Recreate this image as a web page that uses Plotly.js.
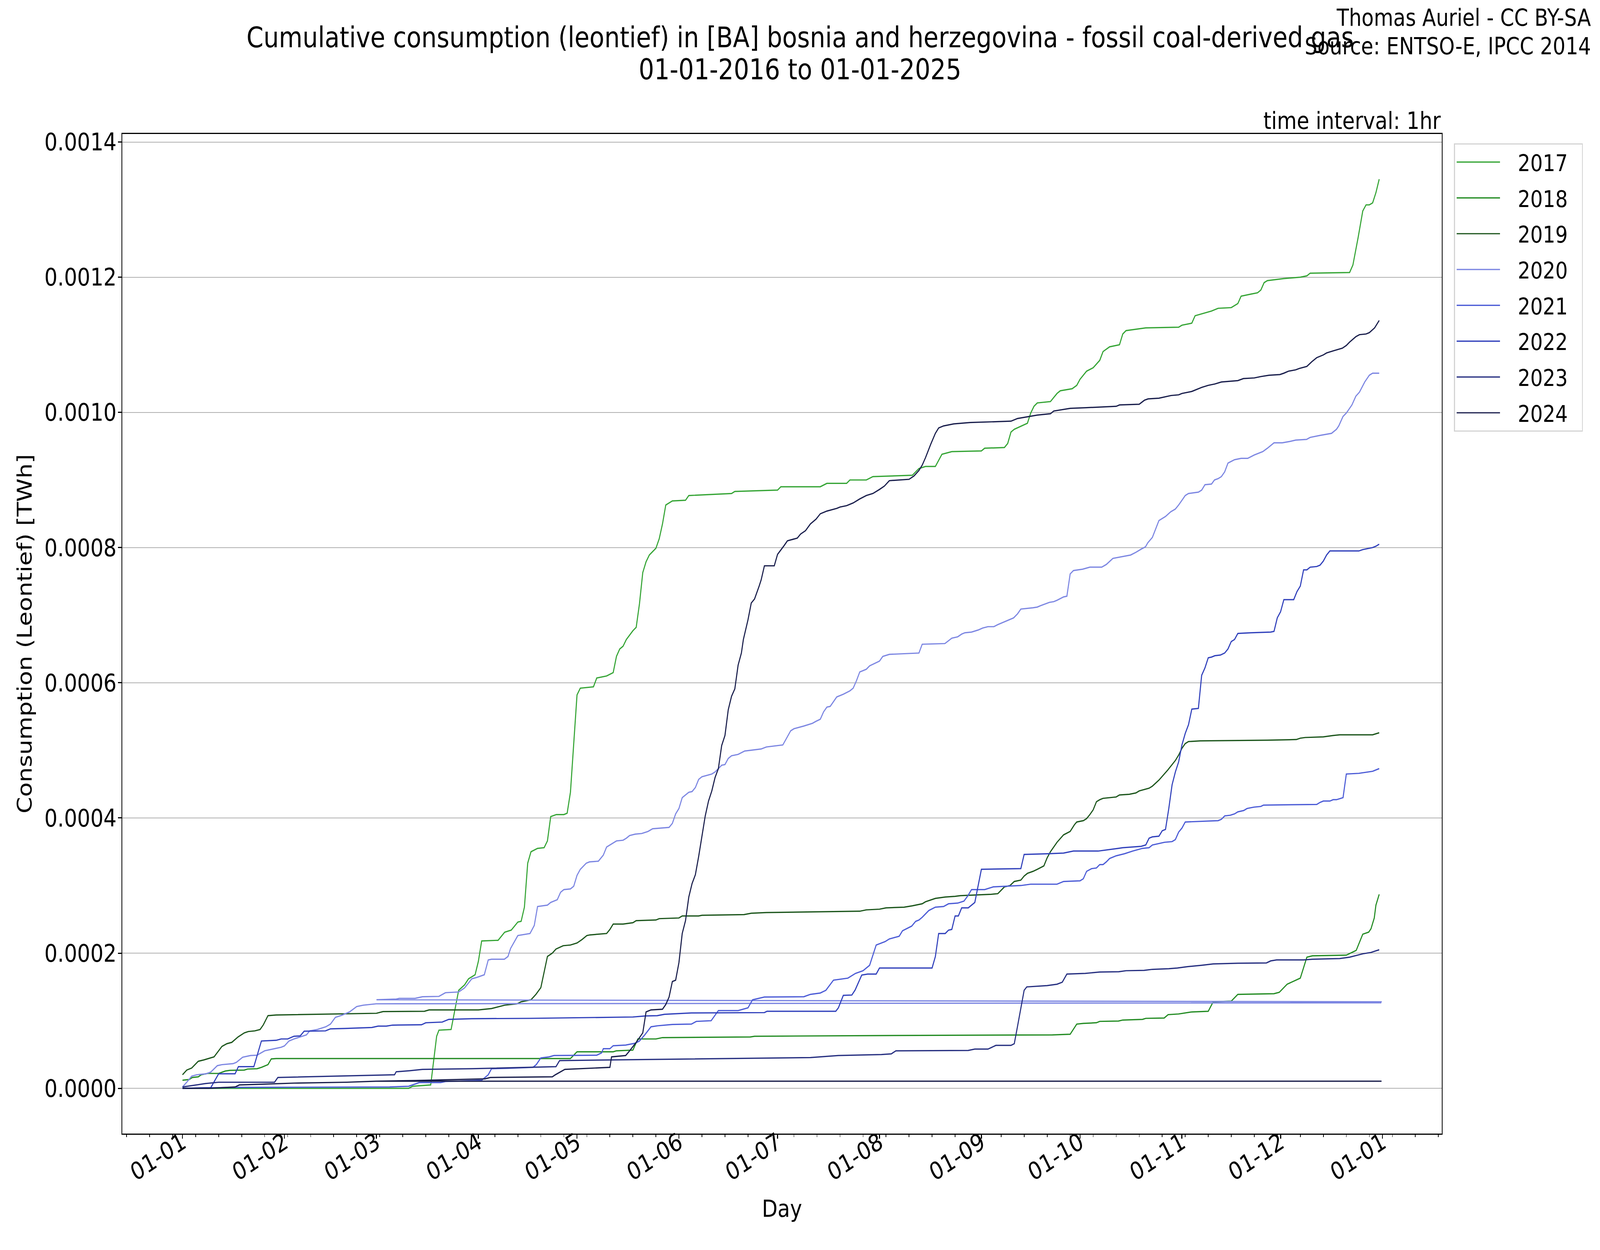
<!DOCTYPE html>
<html>
<head>
<meta charset="utf-8">
<script src="https://cdn.plot.ly/plotly-3.0.1.min.js"></script>
<style>
html,body{margin:0;padding:0;background:#fff;overflow:hidden;}
#wrap{position:relative;overflow:hidden;width:4800px;height:3200px;}
#plot{position:absolute;left:0;top:0;width:4800px;height:3200px;transform-origin:0 0;}
</style>
</head>
<body>
<div id="wrap"><div id="plot"></div></div>
<script>
// Values: [day of year, cumulative consumption in 1e-4 TWh]
const UNIT = 1e-4;
const years = ['2017','2018','2019','2020','2021','2022','2023','2024'];
const colors = ['#34a434','#228b22','#1b551b','#7c86e2','#4b5bd6','#3040bb','#262f80','#181d4b'];

const s2017 = [[0,0],[68.8,0],[70,0.03],[75.5,0.05],[77.3,0.77],[78,0.86],[81.7,0.87],[84,1.45],[85.8,1.53],[87,1.62],[89,1.68],[90,1.88],[91,2.18],[96,2.19],[98,2.31],[100,2.34],[102,2.46],[103,2.47],[104,2.68],[105,3.33],[106,3.5],[108,3.55],[110,3.56],[111,3.66],[112,4.02],[113.7,4.05],[116,4.05],[117,4.07],[118,4.38],[119,5.13],[120,5.82],[121,5.92],[125,5.94],[126,6.07],[129,6.1],[131,6.15],[132,6.39],[133,6.5],[134,6.54],[135,6.64],[137,6.77],[138,6.82],[139,7.17],[140,7.63],[141,7.79],[142,7.89],[144,7.99],[145,8.13],[146,8.35],[147,8.63],[149,8.69],[153,8.7],[154,8.77],[167,8.8],[168,8.83],[181,8.85],[182,8.9],[194,8.9],[196,8.95],[202,8.95],[203,9.0],[208,9.0],[210,9.05],[222,9.07],[224,9.17],[226,9.2],[229,9.2],[231,9.38],[234,9.42],[243,9.43],[244,9.47],[250,9.48],[251,9.54],[252,9.71],[253,9.75],[257,9.84],[258,9.99],[259,10.09],[260,10.14],[264,10.16],[266,10.28],[267,10.32],[270.6,10.35],[272,10.4],[273,10.49],[275,10.61],[277,10.66],[279,10.77],[280,10.9],[282,10.97],[285,11.0],[286,11.16],[287,11.21],[293,11.25],[303,11.26],[304,11.29],[307,11.32],[308,11.43],[313,11.5],[315,11.54],[319,11.55],[321,11.61],[322,11.72],[325,11.75],[327,11.77],[328,11.81],[329,11.92],[330,11.95],[335,11.98],[340,12.0],[342,12.02],[343,12.06],[355,12.07],[356,12.18],[357.6,12.59],[359,12.98],[360,13.07],[361,13.07],[362,13.1],[363,13.25],[364,13.45]];

const s2018 = [[0,0.12],[2,0.13],[3,0.16],[4.8,0.17],[5.7,0.2],[7.6,0.22],[11,0.22],[13,0.255],[14.4,0.265],[18.8,0.27],[19.8,0.285],[22.7,0.29],[24,0.31],[26,0.35],[27,0.435],[28.5,0.44],[118,0.44],[120,0.54],[131,0.54],[132,0.555],[137,0.565],[138.5,0.73],[144,0.73],[146,0.75],[172.7,0.76],[174,0.77],[211,0.78],[253,0.79],[264.6,0.79],[270,0.8],[272,0.95],[274,0.96],[278,0.97],[279,0.99],[284.7,0.995],[286,1.01],[292,1.02],[293,1.035],[298.6,1.04],[299.8,1.09],[303,1.1],[307,1.13],[312,1.14],[313.5,1.28],[319,1.29],[321,1.39],[332,1.4],[333.6,1.42],[336,1.54],[340,1.63],[342,1.94],[343.7,1.96],[354,1.97],[357,2.04],[359,2.28],[360.8,2.31],[361.5,2.36],[362.5,2.52],[363,2.71],[364,2.87]];

const s2019 = [[0,0.2],[1.3,0.27],[2.8,0.3],[4.8,0.4],[6.5,0.42],[8,0.44],[9.6,0.465],[12,0.62],[13.5,0.66],[15,0.68],[16.9,0.76],[18.8,0.82],[20,0.84],[22,0.85],[23.6,0.87],[24.6,0.94],[26,1.075],[28.5,1.085],[39.7,1.095],[59,1.11],[61,1.135],[73.6,1.14],[75,1.16],[90,1.16],[94,1.18],[96.4,1.21],[98,1.23],[101.8,1.25],[103,1.28],[106,1.31],[107.5,1.39],[109,1.49],[109.8,1.68],[111,1.95],[112.5,2.0],[113.6,2.06],[115.8,2.11],[118,2.12],[120,2.15],[121.5,2.2],[123,2.26],[124,2.27],[129,2.29],[130,2.35],[131,2.43],[134,2.43],[137,2.45],[138,2.48],[144,2.49],[145,2.51],[151,2.52],[152,2.55],[157,2.55],[158,2.56],[170.8,2.57],[173,2.59],[177.6,2.6],[193,2.61],[206,2.62],[208,2.64],[212,2.65],[214,2.67],[219.5,2.68],[222,2.7],[225,2.73],[226,2.76],[229,2.81],[232,2.83],[235,2.84],[236.6,2.85],[246,2.87],[248,2.88],[249,2.93],[250,2.98],[251.7,3.0],[253,3.06],[255,3.08],[256,3.14],[257,3.18],[258.7,3.21],[260,3.24],[262,3.29],[263,3.41],[264,3.5],[266,3.64],[268,3.75],[270,3.8],[271.3,3.9],[272,3.94],[274,3.96],[275,3.99],[276,4.05],[277,4.12],[278,4.24],[279,4.27],[280,4.29],[284,4.31],[285,4.34],[288,4.35],[290,4.37],[291,4.4],[294,4.44],[295,4.47],[297,4.56],[299.7,4.71],[302,4.85],[303,4.93],[304,5.03],[305,5.1],[306,5.13],[309.6,5.14],[330,5.15],[338.8,5.16],[340,5.18],[341.5,5.19],[347,5.2],[350,5.22],[352,5.23],[362,5.23],[364,5.26]];

// 2020 is a leap year: 29 Feb lands at the end of the axis
const s2020 = [[0,0.02],[1.3,0.09],[2.8,0.18],[4.3,0.2],[7.2,0.215],[8.6,0.24],[10.6,0.335],[12,0.35],[15.4,0.365],[16.4,0.385],[18.3,0.46],[20.7,0.485],[22.7,0.49],[25,0.555],[28,0.586],[30,0.607],[31,0.627],[32.4,0.7],[33.9,0.73],[35.8,0.76],[37.7,0.79],[38.7,0.85],[41,0.87],[43.6,0.91],[45,0.95],[46.5,1.05],[48.4,1.08],[50.8,1.13],[53,1.21],[55,1.23],[58.9,1.25],[364.5,1.265],[364.6,1.28],[59,1.31],[65,1.32],[65.9,1.33],[70.7,1.33],[73,1.355],[78,1.36],[80,1.415],[84,1.425],[85.8,1.485],[88,1.62],[89.5,1.64],[91.8,1.68],[93,1.9],[94,1.91],[97.9,1.91],[99,1.95],[99.8,2.07],[102,2.26],[105.7,2.29],[107,2.41],[108,2.69],[111,2.71],[112,2.75],[114,2.79],[115,2.9],[116,2.94],[118,2.95],[119,2.99],[120,3.15],[121,3.24],[122.8,3.33],[123.8,3.35],[126.5,3.36],[127,3.39],[128,3.45],[129,3.57],[130,3.6],[132,3.66],[134,3.67],[135,3.7],[136,3.74],[137.7,3.76],[139.7,3.77],[141.6,3.8],[143,3.84],[148,3.86],[149,3.92],[150,4.06],[151,4.14],[152,4.3],[154,4.38],[155,4.39],[156,4.45],[157,4.57],[158,4.61],[161,4.65],[162,4.68],[164,4.78],[165,4.79],[166,4.88],[167,4.92],[169,4.94],[171,4.99],[174,5.01],[176,5.02],[177.6,5.05],[182.6,5.08],[185,5.29],[186,5.32],[189,5.36],[191.6,5.4],[192.7,5.43],[194,5.46],[195,5.57],[196,5.64],[197,5.65],[199,5.79],[201,5.83],[203,5.88],[204,5.92],[205,6.03],[206,6.16],[208,6.2],[209,6.25],[210.7,6.29],[212,6.32],[213,6.39],[215,6.42],[224,6.44],[225,6.57],[231.9,6.58],[234,6.66],[235.8,6.68],[237,6.72],[238,6.74],[240,6.75],[242,6.78],[243.4,6.81],[245,6.83],[246.8,6.83],[248,6.86],[250.5,6.91],[252.8,6.96],[254,7.02],[255,7.09],[258.7,7.11],[260,7.12],[261,7.14],[263.7,7.19],[265,7.2],[266,7.22],[268,7.27],[269,7.28],[270,7.61],[271,7.66],[273.8,7.68],[276,7.71],[279.6,7.71],[281,7.75],[283,7.84],[286,7.87],[288.4,7.89],[290,7.93],[291.7,7.98],[292.9,8.01],[293.6,8.07],[295,8.15],[296,8.27],[297,8.4],[299,8.46],[300.6,8.53],[302,8.57],[303,8.63],[304,8.7],[305,8.77],[306,8.8],[309,8.82],[310,8.85],[311,8.93],[313,8.94],[313.9,9.0],[315,9.02],[316,9.05],[317,9.12],[318,9.25],[320,9.3],[322,9.32],[324,9.32],[326,9.37],[328.6,9.42],[330,9.47],[332,9.55],[334.5,9.55],[336.8,9.57],[338.6,9.59],[341.9,9.6],[343,9.63],[346,9.66],[349.5,9.69],[351,9.75],[351.7,9.8],[353,9.94],[354,9.99],[355.7,10.11],[356.9,10.24],[358,10.3],[359.6,10.45],[361,10.55],[362,10.58],[364,10.58]];

const s2021 = [[0,0],[17,0.014],[63,0.02],[68.8,0.03],[72,0.085],[78.5,0.085],[80,0.1],[91,0.12],[93,0.2],[94,0.29],[99,0.295],[106.6,0.31],[107.6,0.35],[109,0.45],[111.5,0.465],[113,0.485],[126,0.49],[127.5,0.525],[128,0.586],[130,0.586],[131,0.63],[134.8,0.64],[137.7,0.667],[139,0.7],[140.6,0.79],[142.5,0.91],[144.5,0.925],[149,0.945],[154.8,0.95],[156.3,0.99],[160.8,1.0],[161.5,1.05],[163,1.15],[169,1.15],[172,1.19],[173.4,1.31],[177,1.35],[189,1.355],[191,1.39],[194,1.41],[195.7,1.45],[198,1.6],[202.4,1.63],[204.7,1.7],[207,1.74],[209,1.82],[211,2.12],[213.7,2.17],[215,2.21],[218,2.25],[219,2.33],[221.8,2.4],[223,2.47],[224,2.49],[225,2.53],[227,2.63],[229,2.68],[231.5,2.69],[233,2.73],[235.8,2.74],[237.7,2.77],[238.9,2.85],[240,2.94],[244,2.94],[246.6,2.98],[255,3.0],[258,3.02],[266,3.02],[268,3.06],[273,3.07],[274,3.1],[275,3.21],[276.5,3.25],[278,3.26],[279,3.31],[280,3.31],[281,3.35],[282,3.4],[284,3.44],[286.5,3.47],[289,3.51],[292,3.55],[294,3.56],[295,3.6],[297,3.62],[298.7,3.64],[301,3.65],[302,3.68],[303,3.79],[304,3.85],[305,3.94],[315,3.96],[316,3.98],[317,4.03],[318.7,4.04],[320,4.06],[321,4.09],[322.8,4.11],[323.8,4.14],[325.9,4.16],[328,4.17],[328.8,4.19],[345,4.2],[346,4.23],[347,4.25],[349,4.25],[350,4.27],[351,4.27],[353,4.3],[354,4.65],[357.8,4.66],[360.5,4.68],[362,4.69],[364,4.73]];

const s2022 = [[0,0],[8.6,0.01],[11,0.215],[16,0.215],[17,0.32],[21.7,0.32],[24,0.7],[28.5,0.71],[30,0.73],[32,0.73],[33.9,0.77],[35.8,0.775],[37,0.845],[43.5,0.85],[45,0.88],[49.4,0.885],[57.6,0.9],[59.5,0.92],[62,0.92],[63.9,0.935],[72.7,0.94],[74,0.97],[79,0.98],[81,1.02],[88,1.03],[105.7,1.035],[137,1.055],[140.7,1.07],[144.4,1.075],[146.6,1.095],[154.8,1.115],[177,1.12],[177.8,1.14],[198.7,1.14],[199.5,1.19],[201,1.375],[203.6,1.38],[204.6,1.455],[206.6,1.675],[208.4,1.69],[211,1.69],[212,1.78],[228,1.78],[229,1.95],[230,2.29],[232,2.29],[233,2.34],[234,2.35],[235,2.55],[236,2.55],[237,2.67],[239,2.67],[241,2.75],[243,3.24],[255,3.25],[256,3.46],[263,3.47],[268,3.48],[271,3.51],[278.5,3.51],[284.6,3.55],[286,3.56],[291.6,3.58],[293,3.6],[294,3.7],[295,3.72],[297,3.73],[298,3.81],[299,3.83],[300,4.14],[301,4.49],[302,4.68],[303,4.83],[304,5.08],[305,5.25],[306,5.38],[307,5.61],[309,5.62],[310,6.11],[311,6.22],[312,6.37],[313,6.38],[314,6.4],[315.7,6.41],[317,6.44],[318,6.5],[319,6.61],[320,6.64],[321,6.73],[325,6.74],[331,6.75],[332,6.76],[333,6.96],[334,7.05],[335,7.23],[338,7.23],[339,7.35],[340,7.43],[341,7.67],[342,7.67],[343,7.71],[345,7.72],[346,7.74],[347,7.8],[348,7.89],[349,7.95],[357.8,7.95],[359,7.97],[360,7.98],[362,8.0],[363,8.02],[364,8.05]];

const s2023 = [[0,0.02],[7,0.07],[11,0.09],[28,0.09],[29,0.16],[37,0.17],[64.5,0.2],[65,0.245],[69,0.26],[73,0.28],[88,0.29],[113.6,0.32],[114.7,0.41],[130.6,0.42],[159,0.435],[191,0.455],[199.5,0.485],[204.7,0.49],[212.6,0.5],[215.6,0.51],[217,0.555],[239,0.56],[241,0.58],[245,0.58],[247.4,0.635],[252,0.635],[253,0.66],[254,0.92],[256,1.45],[256.8,1.5],[263,1.52],[266,1.54],[267.6,1.57],[269,1.69],[274.6,1.7],[279,1.72],[284.8,1.725],[287,1.74],[292.5,1.745],[295,1.76],[300,1.77],[302.6,1.78],[305.7,1.8],[310,1.82],[313.5,1.84],[321,1.85],[329.7,1.855],[331,1.885],[332.8,1.9],[341,1.9],[343.7,1.91],[352,1.92],[355,1.94],[359,1.99],[361.5,2.01],[364,2.05]];

// 2024 is a leap year: 29 Feb lands at the end of the axis
const s2024 = [[0,0],[8,0],[16,0.02],[17.3,0.05],[24,0.06],[34,0.077],[50,0.09],[58.9,0.105],[364.6,0.105],[364.7,0.106],[59,0.106],[71,0.115],[92,0.14],[93.6,0.16],[112.5,0.17],[113.4,0.2],[116.3,0.28],[130,0.31],[130.5,0.465],[134.8,0.485],[136,0.555],[138,0.68],[140,0.82],[141,1.13],[142.5,1.16],[146,1.17],[147,1.24],[148,1.35],[149,1.58],[150,1.6],[151,1.86],[152,2.29],[153,2.48],[154,2.83],[155,3.03],[156,3.16],[157,3.43],[158,3.72],[159,4.03],[160,4.25],[161,4.4],[162,4.6],[163,4.73],[164,5.07],[165,5.22],[166,5.6],[167,5.8],[168,5.91],[169,6.26],[170,6.44],[170.6,6.64],[172,6.93],[173,7.18],[174,7.24],[174.6,7.32],[175.4,7.43],[176,7.52],[177,7.73],[180,7.73],[181,7.9],[183,8.03],[184,8.1],[187,8.14],[188,8.2],[189.5,8.25],[191,8.35],[192.7,8.42],[194,8.5],[196,8.54],[199,8.58],[200,8.6],[202,8.62],[204,8.66],[206,8.72],[208,8.77],[210,8.8],[212,8.86],[213.5,8.91],[215,8.99],[221,9.01],[222.5,9.06],[224,9.14],[225,9.22],[226,9.33],[227.6,9.53],[229,9.69],[230,9.77],[231.5,9.8],[234.6,9.83],[239.6,9.85],[252,9.87],[254,9.91],[260,9.96],[264,9.98],[265,10.02],[270,10.06],[275,10.07],[284,10.09],[285,10.11],[291,10.12],[292.6,10.18],[293.7,10.2],[297,10.21],[300.7,10.25],[303,10.26],[304,10.28],[307,10.31],[310,10.37],[312,10.4],[314,10.42],[316,10.45],[321,10.47],[322.7,10.5],[326,10.51],[328,10.53],[330.5,10.55],[333.8,10.56],[335,10.58],[336.4,10.61],[338.6,10.63],[339.7,10.65],[342,10.68],[343.5,10.75],[345,10.81],[347,10.85],[348,10.88],[350,10.91],[352.8,10.95],[354,10.99],[355,11.04],[356.9,11.12],[358,11.15],[360,11.16],[361,11.18],[362.6,11.25],[364,11.36]];

const series = [s2017,s2018,s2019,s2020,s2021,s2022,s2023,s2024];

const yTickVals = [0,0.0002,0.0004,0.0006,0.0008,0.0010,0.0012,0.0014];
const yTickText = ['0.0000','0.0002','0.0004','0.0006','0.0008','0.0010','0.0012','0.0014'];

const DAY = 86400000;
const BASE = Date.UTC(2017,0,1);
function toDate(d){ return new Date(BASE + Math.round(d*DAY)).toISOString().replace('T',' ').slice(0,19); }

const FONT = 'DejaVu Sans, Liberation Sans, sans-serif';

const data = series.map((s,i)=>({
  type:'scatter', mode:'lines', name: '\u2002\u00a0' + years[i] + '\u00a0\u00a0', legendgroup: years[i],
  x: s.map(p=>toDate(p[0])), y: s.map(p=>p[1]*UNIT),
  line:{color:colors[i], width:3.2}, hoverinfo:'skip'
}));

const L=367, R=4325, T=343, B=2902;
const PH = B-T, PW = R-L;
function py(px){ return (B-px)/PH; }
function pxX(px){ return (px-L)/PW; }

const layout = {
  width:4800, height:3200,
  margin:{l:L, r:4800-R, t:T, b:3200-B, pad:0},
  paper_bgcolor:'#ffffff', plot_bgcolor:'#ffffff',
  font:{family:FONT, color:'#000000', size:62},
  showlegend:true,
  legend:{x:pxX(4362), y:py(367), xanchor:'left', yanchor:'top',
    bgcolor:'rgba(255,255,255,0.8)', bordercolor:'#d4d4d4', borderwidth:3,
    font:{family:FONT, size:59, color:'#000'}, traceorder:'grouped', tracegroupgap:12,
    itemwidth:130},
  xaxis:{type:'date', range:[toDate(-18.3), toDate(383.0)],
    tickmode:'linear', tick0:'2017-01-01', dtick:'M1', tickformat:'%d-%m', tickangle:-30,
    ticks:'outside', ticklen:10, tickwidth:2.5, tickcolor:'#000',
    minor:{ticks:'outside', ticklen:6, tickwidth:2, tickcolor:'#000', dtick:7*DAY, tick0:'2017-01-05', showgrid:false},
    showgrid:false, zeroline:false, showline:true, linecolor:'#000', linewidth:2.5, mirror:true,
    tickfont:{family:FONT, size:62, color:'#000'}, ticklabelstandoff:-50,
    title:{text:'Day', font:{family:FONT, size:61, color:'#000'}, standoff:36},
    automargin:false},
  yaxis:{range:[-0.000067, 0.0014119], tickmode:'array', tickvals:yTickVals, ticktext:yTickText,
    ticks:'outside', ticklen:10, tickwidth:2.5, tickcolor:'#000',
    showgrid:true, gridcolor:'#b0b0b0', gridwidth:2.4, zeroline:false,
    showline:true, linecolor:'#000', linewidth:2.5, mirror:true,
    tickfont:{family:FONT, size:62, color:'#000'}, ticklabelstandoff:-8,
    title:{text:'Consumption (Leontief) [TWh]', font:{family:FONT, size:61, color:'#000'}, standoff:18},
    automargin:false},
  annotations:[
    {text:'Cumulative consumption (leontief) in [BA] bosnia and herzegovina - fossil coal-derived gas',
      xref:'paper', yref:'paper', x:pxX(2400), y:py(95), xanchor:'center', yanchor:'middle', showarrow:false,
      font:{family:FONT, size:73, color:'#000'}},
    {text:'01-01-2016 to 01-01-2025',
      xref:'paper', yref:'paper', x:pxX(2400), y:py(178), xanchor:'center', yanchor:'middle', showarrow:false,
      font:{family:FONT, size:73, color:'#000'}},
    {text:'Thomas Auriel - CC BY-SA',
      xref:'paper', yref:'paper', x:pxX(4775), y:py(45), xanchor:'right', yanchor:'middle', showarrow:false,
      font:{family:FONT, size:60, color:'#000'}},
    {text:'Source: ENTSO-E, IPCC 2014',
      xref:'paper', yref:'paper', x:pxX(4775), y:py(118), xanchor:'right', yanchor:'middle', showarrow:false,
      font:{family:FONT, size:60, color:'#000'}},
    {text:'time interval: 1hr',
      xref:'paper', yref:'paper', x:1, y:py(308), xanchor:'right', yanchor:'middle', showarrow:false,
      font:{family:FONT, size:61, color:'#000'}}
  ]
};

// Fit the 4800x3200 design to the viewport the page is given (the browser caps width at 4096)
const wrap = document.getElementById('wrap');
const plotDiv = document.getElementById('plot');
const vw = window.innerWidth || document.documentElement.clientWidth || 4800;
const vh = window.innerHeight || document.documentElement.clientHeight || 3200;
const sx = vw/4800, sy = vh/3200;
wrap.style.width = vw + 'px';
wrap.style.height = vh + 'px';
plotDiv.style.transform = 'scale(' + sx + ',' + sy + ')';

Plotly.newPlot(plotDiv, data, layout, {displayModeBar:false, responsive:false});
</script>
</body>
</html>
